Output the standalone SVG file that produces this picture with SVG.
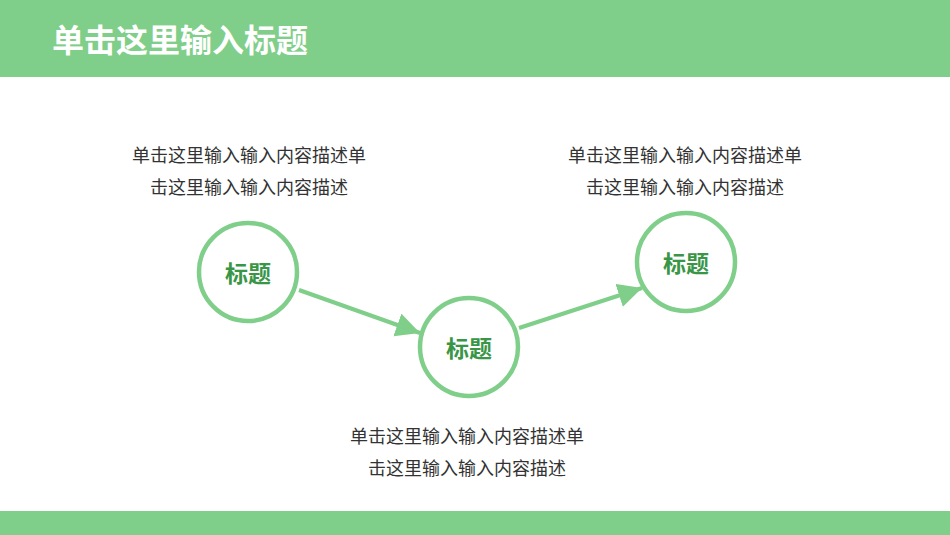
<svg xmlns="http://www.w3.org/2000/svg" width="950" height="535" viewBox="0 0 950 535">
  <style>
    .bar { fill: #7fce89; }
    .title { font-family: "Noto Sans CJK SC", "Noto Sans", sans-serif; font-size: 32px; font-weight: bold; fill: #ffffff; }
    .desc { font-family: "Noto Sans CJK SC", "Noto Sans", sans-serif; font-size: 18px; fill: #333333; text-anchor: middle; }
    .ring { fill: #ffffff; stroke: #7fce89; stroke-width: 4.5; }
    .label { font-family: "Noto Sans CJK SC", "Noto Sans", sans-serif; font-size: 23px; font-weight: bold; fill: #3a9647; text-anchor: middle; }
    .conn { stroke: #7fce89; stroke-width: 4; fill: none; }
  </style>
  <defs>
    <marker id="arrow" markerUnits="userSpaceOnUse" markerWidth="26" markerHeight="26" refX="24" refY="12" orient="auto">
      <path d="M0,0 L24,12 L0,24 Z" fill="#7fce89"/>
    </marker>
  </defs>
  <rect width="950" height="535" fill="#ffffff"/>
  <rect class="bar" x="0" y="0" width="950" height="77"/>
  <rect class="bar" x="0" y="511" width="950" height="24"/>
  <text class="title" x="52" y="52">单击这里输入标题</text>

  <g id="connectors">
    <line class="conn" x1="299" y1="290" x2="420" y2="333" marker-end="url(#arrow)"/>
    <line class="conn" x1="519" y1="328" x2="642" y2="288" marker-end="url(#arrow)"/>
  </g>

  <g id="node1">
    <circle class="ring" cx="248" cy="272" r="49"/>
    <text class="label" x="248" y="282">标题</text>
  </g>
  <g id="node2">
    <circle class="ring" cx="469" cy="347" r="49"/>
    <text class="label" x="469" y="357">标题</text>
  </g>
  <g id="node3">
    <circle class="ring" cx="686" cy="262" r="49"/>
    <text class="label" x="686" y="272">标题</text>
  </g>

  <g id="desc1">
    <text class="desc" x="249" y="162">单击这里输入输入内容描述单</text>
    <text class="desc" x="249" y="194">击这里输入输入内容描述</text>
  </g>
  <g id="desc2">
    <text class="desc" x="467" y="443">单击这里输入输入内容描述单</text>
    <text class="desc" x="467" y="475">击这里输入输入内容描述</text>
  </g>
  <g id="desc3">
    <text class="desc" x="685" y="162">单击这里输入输入内容描述单</text>
    <text class="desc" x="685" y="194">击这里输入输入内容描述</text>
  </g>
</svg>
